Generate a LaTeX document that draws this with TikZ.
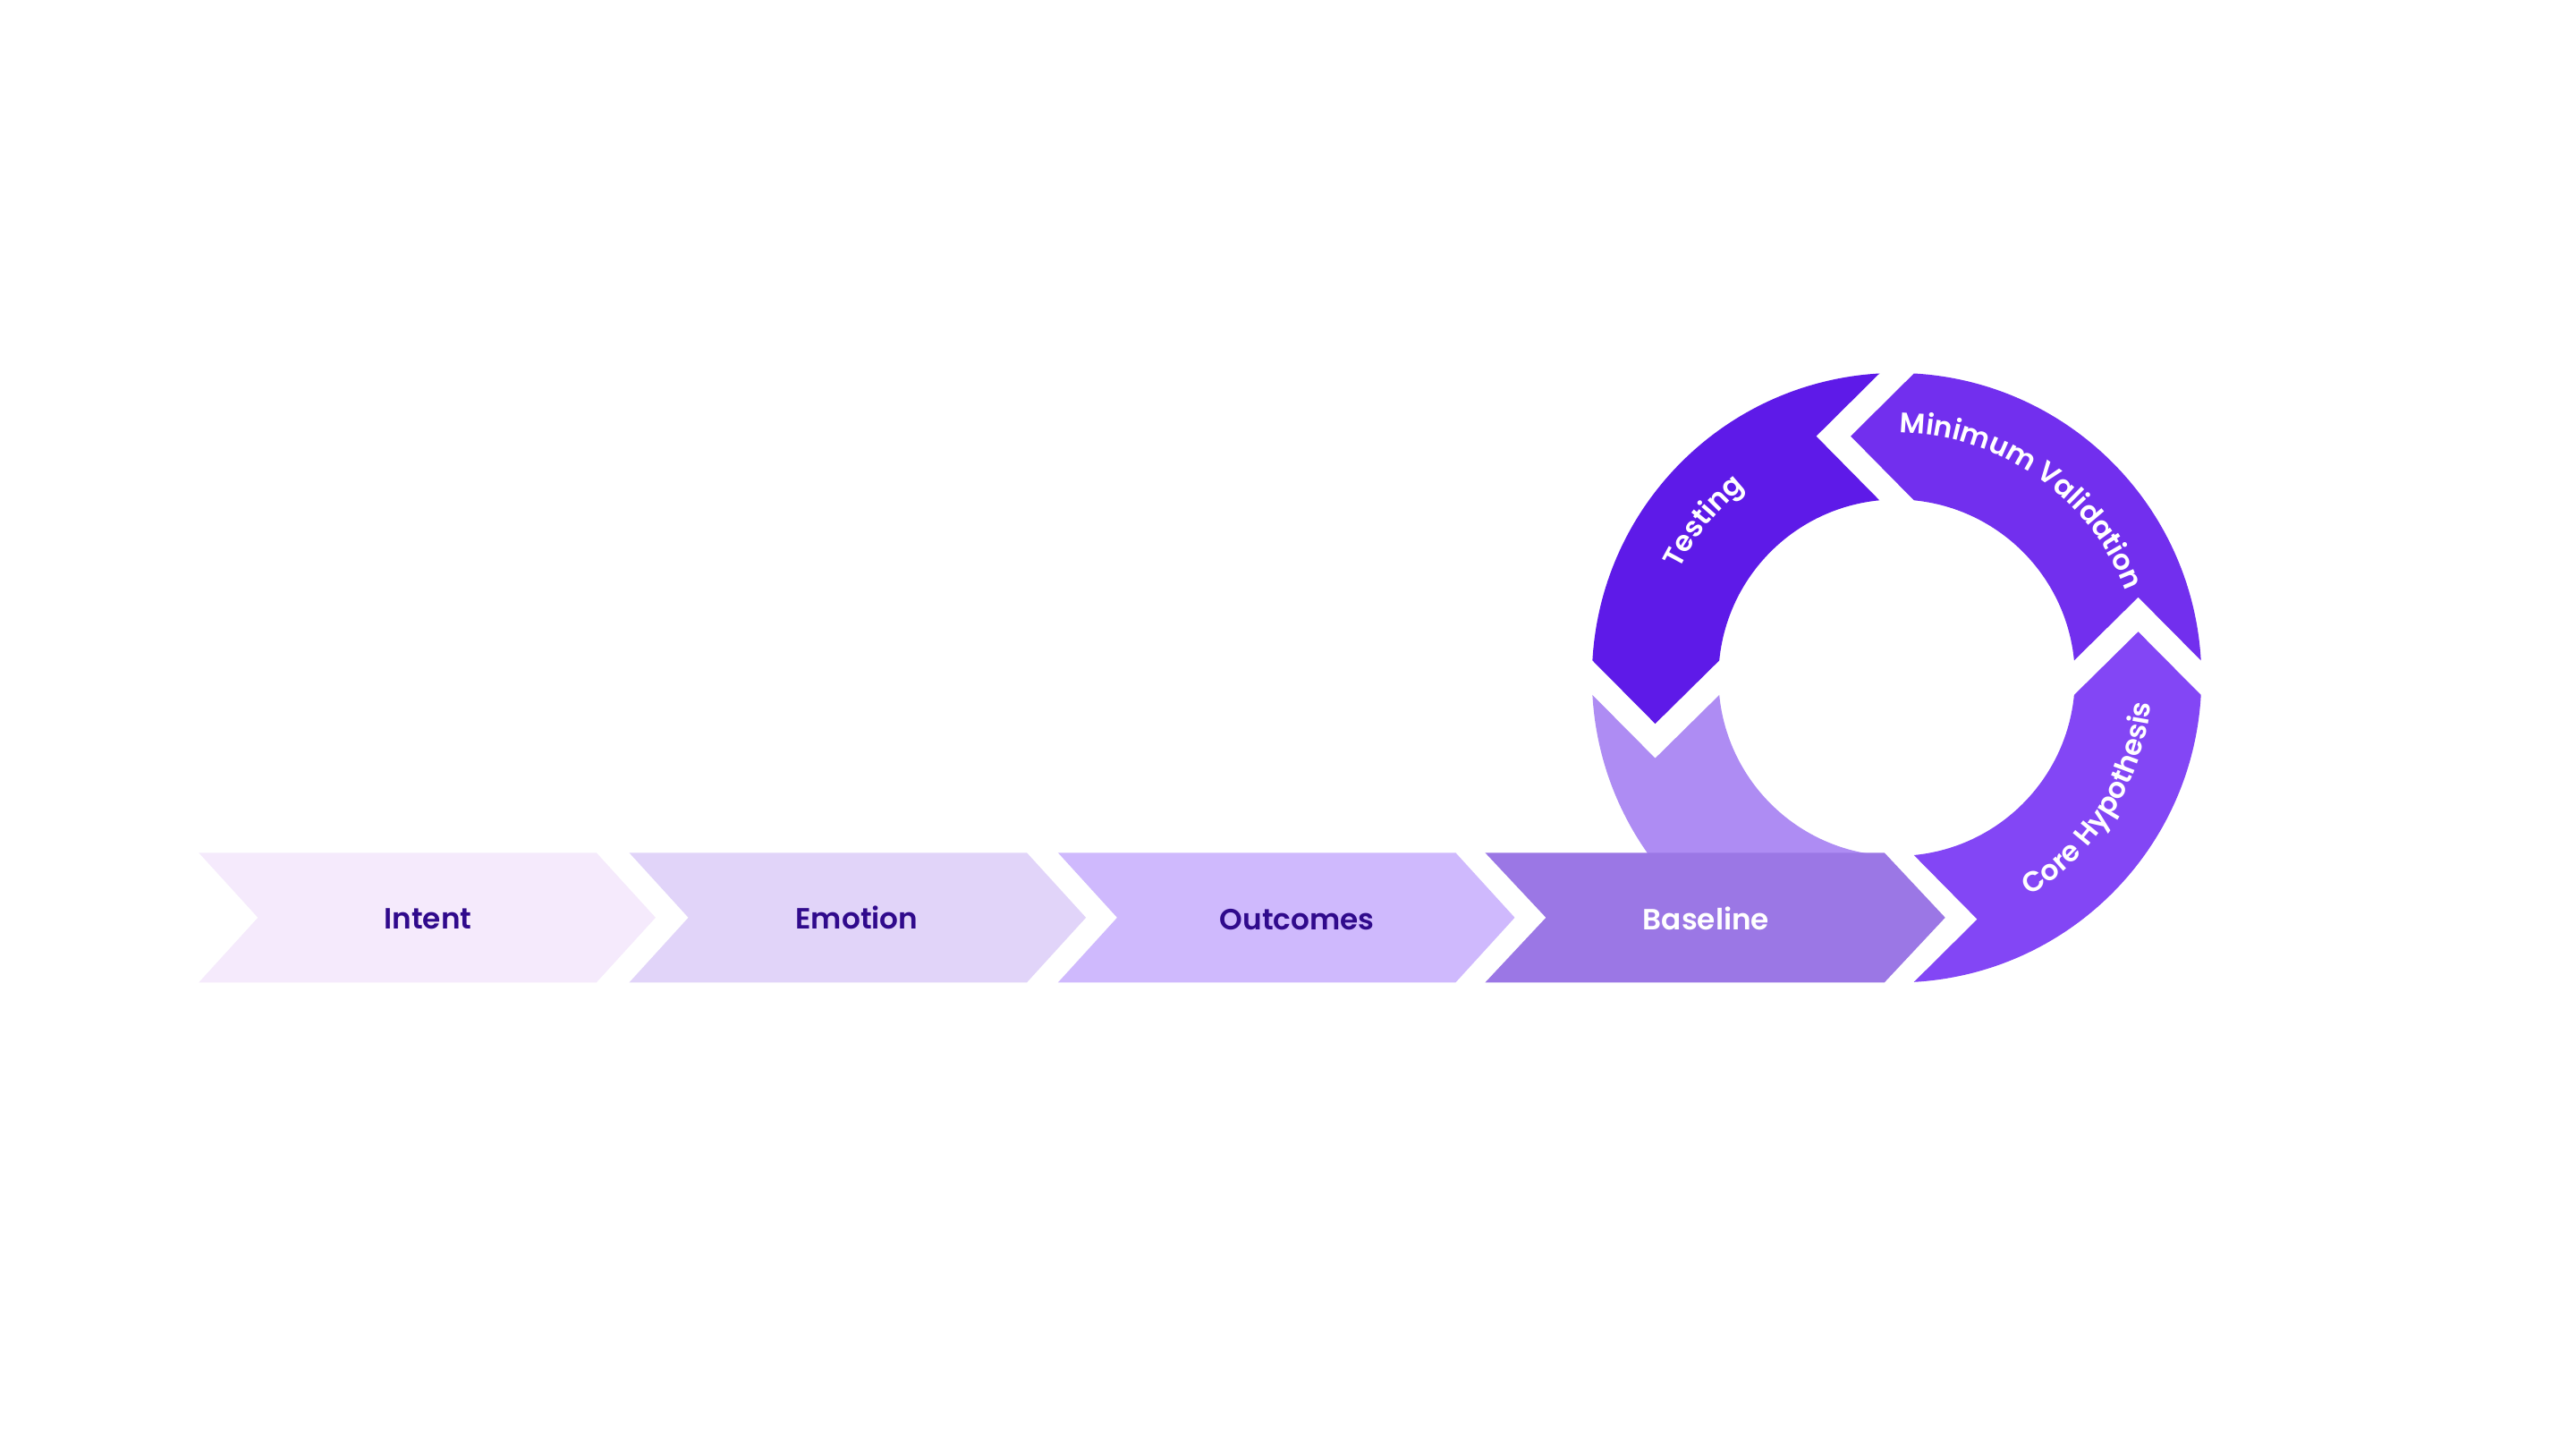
\documentclass[tikz,border=0pt]{standalone}
\usepackage{fontspec}
\setmainfont{Poppins}
\newfontfamily\popsb{Poppins SemiBold}
\usetikzlibrary{calc,decorations.text}
\definecolor{cTest}{HTML}{5E1AE8}
\definecolor{cMV}{HTML}{722FEE}
\definecolor{cCH}{HTML}{8346F5}
\definecolor{cLight}{HTML}{AE8CF3}
\definecolor{cBase}{HTML}{9B77E5}
\definecolor{cOut}{HTML}{CFB9FD}
\definecolor{cEmo}{HTML}{E1D4F9}
\definecolor{cInt}{HTML}{F5EAFC}
\definecolor{cText}{HTML}{300A8C}
\newcommand{\lab}{\popsb\fontsize{9.3}{11}\selectfont}
\newcommand{\rlab}{\popsb\fontsize{9.0}{11}\selectfont}
\newcommand{\ringseg}[3]{%
  \fill[#3] ($(C)+(#1+\dO:\Ro)$) arc[start angle=#1+\dO, end angle=#2-\dO, radius=\Ro]
    -- ($(C)+(#2:\Rm)+(#2+90:\htip)$)
    -- ($(C)+(#2-\dI:\Ri)$) arc[start angle=#2-\dI, end angle=#1+\dI, radius=\Ri]
    -- ($(C)+(#1:\Rm)+(#1+90:\hnot)$) -- cycle;}
\newcommand{\chev}[4]{% left x, width, depth, colour
  \fill[#4] (#1,363) -- ({#1+#2},363) -- ({#1+#2+#3},323.5) -- ({#1+#2},284)
    -- (#1,284) -- ({#1+#3},323.5) -- cycle;}
\begin{document}
\begin{tikzpicture}[x=0.0183673cm,y=0.0183673cm,
  chevlabel/.style={font=\lab, anchor=base, inner sep=0pt},
  ringlabel/.style={decorate, decoration={text along path, text={|\rlab|#1}, text align=center, text color=white}}]
\fill[white] (0,0) rectangle (1568,882);
\useasboundingbox (0,0) rectangle (1568,882);
\coordinate (C) at (1154.5,469.5);
\pgfmathsetmacro\Ro{185.5}
\pgfmathsetmacro\Ri{108.5}
\pgfmathsetmacro\Rm{147}
\pgfmathsetmacro\htip{28}
\pgfmathsetmacro\hnot{49}
\pgfmathsetmacro\dO{asin(10.5/185.5)}
\pgfmathsetmacro\dI{asin(10.5/108.5)}
% ring segments (counter-clockwise flow)
\ringseg{180}{270}{cLight}
\ringseg{-90}{0}{cCH}
\ringseg{0}{90}{cMV}
\ringseg{90}{180}{cTest}
% chevrons
\chev{121}{242}{36}{cInt}
\chev{383}{242}{36}{cEmo}
\chev{644}{242}{36}{cOut}
\chev{904}{243}{37}{cBase}
% chevron labels
\node[chevlabel, text=cText] (intent) at (260.5,316.5) {Intent};
\node[chevlabel, text=cText] (emotion) at (521.5,316.5) {Emotion};
\node[chevlabel, text=cText] (outcomes) at (789.5,316) {Outcomes};
\node[chevlabel, text=white] (baseline) at (1038.5,316) {Baseline};
% ring labels
\path[ringlabel={Minimum Validation}] ($(C)+(115:149)$) arc[start angle=115, end angle=-5, radius=149];
\path[ringlabel={Core Hypothesis}] ($(C)+(-92.2:155.5)$) arc[start angle=-92.2, end angle=27.8, radius=155.5];
\path[ringlabel={Testing}] ($(C)+(201:148)$) arc[start angle=201, end angle=81, radius=148];
\end{tikzpicture}
\end{document}
